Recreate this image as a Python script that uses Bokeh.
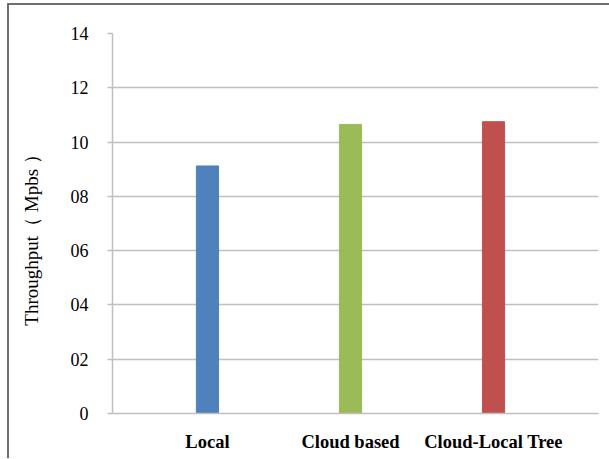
from bokeh.plotting import figure
from bokeh.models import Range1d, FixedTicker, ColumnDataSource
from bokeh.embed import file_html
from bokeh.resources import INLINE

# Throughput per deployment scheme
schemes = ["Local", "Cloud based", "Cloud-Local Tree"]
throughput = [9.12, 10.65, 10.75]
bar_colors = ["#4F81BD", "#9BBB59", "#C0504D"]
y_ticks = [0, 2, 4, 6, 8, 10, 12, 14]
y_tick_labels = ["0", "02", "04", "06", "08", "10", "12", "14"]

positions = list(range(1, len(schemes) + 1))
source = ColumnDataSource(dict(x=positions, top=throughput, color=bar_colors))

p = figure(
    width=600, height=453,
    output_backend="svg", toolbar_location=None,
    x_range=Range1d(0.336, 3.734), y_range=Range1d(0, 14),
    min_border_left=103, min_border_right=11,
    min_border_top=28, min_border_bottom=45,
)
p.frame_width = 486
p.frame_height = 380
p.outline_line_color = None
p.background_fill_color = "white"
p.border_fill_color = "white"
# outer frame around the whole chart
p.styles = {
    "margin-left": "7px", "margin-top": "3px",
    "border-left": "2px solid #6E6E6E", "border-top": "2px solid #6E6E6E",
}

p.vbar(x="x", top="top", width=0.155, color="color", source=source)

grid_gray = "#BFBFBF"
serif = "Liberation Serif"

# x axis: category names under each bar
p.xaxis.ticker = FixedTicker(ticks=positions)
p.xaxis.major_label_overrides = {pos: name for pos, name in zip(positions, schemes)}
p.xaxis.major_tick_line_color = None
p.xaxis.minor_tick_line_color = None
p.xaxis.axis_line_color = grid_gray
p.xaxis.axis_line_width = 1.5
p.xaxis.major_label_text_font = serif
p.xaxis.major_label_text_font_style = "bold"
p.xaxis.major_label_text_font_size = "18.5px"
p.xaxis.major_label_text_color = "black"
p.xaxis.major_label_standoff = 12
p.xgrid.grid_line_color = None

# y axis
p.yaxis.ticker = FixedTicker(ticks=y_ticks)
p.yaxis.major_label_overrides = {t: s for t, s in zip(y_ticks, y_tick_labels)}
p.yaxis.axis_line_color = grid_gray
p.yaxis.axis_line_width = 1.5
p.yaxis.major_tick_line_color = grid_gray
p.yaxis.major_tick_line_width = 1.5
p.yaxis.major_tick_in = 0
p.yaxis.major_tick_out = 5
p.yaxis.minor_tick_line_color = None
p.yaxis.major_label_text_font = serif
p.yaxis.major_label_text_font_size = "18px"
p.yaxis.major_label_text_color = "black"
p.yaxis.major_label_standoff = 19
# trailing no-break spaces nudge the rotated title slightly lower
p.yaxis.axis_label = "Throughput（ Mpbs ）\u00a0\u00a0\u00a0\u00a0\u00a0"
p.yaxis.axis_label_text_font = serif
p.yaxis.axis_label_text_font_style = "normal"
p.yaxis.axis_label_text_font_size = "19px"
p.yaxis.axis_label_text_color = "black"
p.yaxis.axis_label_standoff = 26
p.ygrid.grid_line_color = grid_gray
p.ygrid.grid_line_width = 1.5

open("out.html", "w").write(file_html(p, INLINE))
